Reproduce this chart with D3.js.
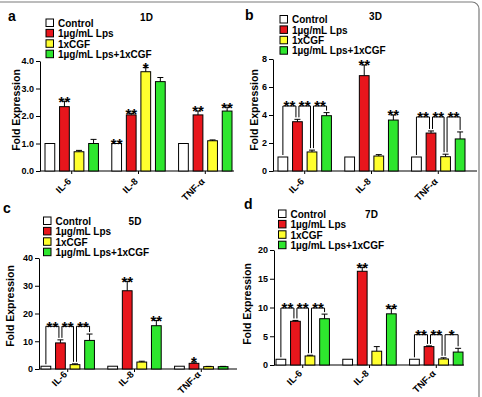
<!DOCTYPE html>
<html lang="en">
<head>
<meta charset="utf-8">
<script src="https://d3js.org/d3.v7.min.js"></script>
<style>
  body { margin: 0; background: #fff; }
  svg { display: block; font-family: "Liberation Sans", Arial, sans-serif; font-weight: bold; }
</style>
</head>
<body>
<div id="chart"></div>
<script>
// ---- data ----
const genes = ["IL-6", "IL-8", "TNF-α"];
const treatments = ["Control", "1µg/mL Lps", "1xCGF", "1µg/mL Lps+1xCGF"];
const days = ["1D", "3D", "5D", "7D"];
const letters = ["a", "b", "c", "d"];

const yTicks1D = [0, 1, 2, 3, 4];
const yTicks3D = [0, 2, 4, 6, 8];
const yTicks5D = [0, 10, 20, 30, 40];
const yTicks7D = [0, 5, 10, 15, 20];

// rows = genes, columns = treatments
const mean1D = [[1.00, 2.34, 0.70, 1.00], [1.00, 2.04, 3.61, 3.25], [1.00, 2.04, 1.10, 2.18]];
const err1D  = [[0, 0.20, 0.05, 0.15], [0, 0.06, 0.15, 0.15], [0, 0.14, 0.03, 0.14]];
const star1D = [["", "**", "", ""], ["**", "**", "*", ""], ["", "**", "", "**"]];

const mean3D = [[1.00, 3.52, 1.36, 3.95], [1.00, 6.81, 1.07, 3.64], [1.00, 2.71, 1.02, 2.29]];
const err3D  = [[0, 0.17, 0.13, 0.22], [0, 0.76, 0.10, 0.36], [0, 0.15, 0.18, 0.50]];
const star3D = [["", "", "", ""], ["", "**", "", "**"], ["", "", "", ""]];

const mean5D = [[1.00, 9.4, 1.56, 10.3], [1.00, 28.2, 2.5, 15.6], [1.00, 2.04, 0.85, 0.85]];
const err5D  = [[0, 1.1, 0.3, 2.3], [0, 3.4, 0.3, 1.9], [0, 0.45, 0.1, 0.1]];
const star5D = [["", "", "", ""], ["", "**", "", "**"], ["", "*", "", ""]];

const mean7D = [[1.00, 7.6, 1.57, 8.05], [1.00, 16.3, 2.4, 8.9], [1.00, 3.2, 1.05, 2.25]];
const err7D  = [[0, 0.15, 0.13, 0.8], [0, 0.7, 0.8, 0.95], [0, 0.12, 0.2, 0.65]];
const star7D = [["", "", "", ""], ["", "**", "", "**"], ["", "", "", ""]];

// comparison brackets: gene, level (fold expression), stars for pairs 0-1, 1-2, 2-3
const bracketPairs = [[0, 1], [1, 2], [2, 3]];
const brackets1D = [];
const brackets3D = [["IL-6", 4.64, ["**", "**", "**"]], ["TNF-α", 3.86, ["**", "**", "**"]]];
const brackets5D = [["IL-6", 15.4, ["**", "**", "**"]]];
const brackets7D = [["IL-6", 9.9, ["**", "**", "**"]], ["TNF-α", 5.27, ["**", "**", "*"]]];

const colors = ["#ffffff", "#e8161c", "#ffff2e", "#2ee62e"];

// ---- layout ----
const W = 482, H = 397;
const STAR = 15;
const panels = [
  {ticks: yTicks1D, mean: mean1D, err: err1D, star: star1D, brackets: brackets1D,
   axisX: 40, axisEnd: 234, band: [45, 232], yBottom: 171, yTop: 61, labDy: 11,
   letter: [8, 21], title: [146.5, 21], legend: [46, 19], yTitle: [19.5, 110]},
  {ticks: yTicks3D, mean: mean3D, err: err3D, star: star3D, brackets: brackets3D,
   axisX: 273, axisEnd: 477, band: [278, 465], yBottom: 171, yTop: 59, labDy: 11,
   letter: [245, 19.5], title: [375.5, 20], legend: [280, 15.5], yTitle: [257.5, 110]},
  {ticks: yTicks5D, mean: mean5D, err: err5D, star: star5D, brackets: brackets5D,
   axisX: 39, axisEnd: 237, band: [41, 228], yBottom: 369, yTop: 258, labDy: 6,
   letter: [3, 213], title: [135, 225], legend: [43.5, 217], yTitle: [14, 306]},
  {ticks: yTicks7D, mean: mean7D, err: err7D, star: star7D, brackets: brackets7D,
   axisX: 274, axisEnd: 464, band: [276, 463], yBottom: 365, yTop: 250, labDy: 9,
   letter: [244, 209], title: [371.5, 218], legend: [278.5, 210], yTitle: [251, 304]}
];

const svg = d3.select("#chart").append("svg").attr("width", W).attr("height", H);

// outer frame, only the top/right edges show
svg.append("rect")
  .attr("x", -10).attr("y", 2).attr("width", 489).attr("height", 420).attr("rx", 7)
  .attr("fill", "none").attr("stroke", "#7a7a7a").attr("stroke-width", 1.2);

function drawPanel(p, i) {
  const g = svg.append("g");
  const y = d3.scaleLinear().domain([0, p.ticks[p.ticks.length - 1]]).range([p.yBottom, p.yTop]);
  const x = d3.scaleBand().domain(genes).range(p.band).paddingInner(0.2).paddingOuter(0);
  const xs = d3.scaleBand().domain(treatments).range([0, x.bandwidth()]).paddingInner(0.33);
  const bw = xs.bandwidth();
  const cx = (gi, ti) => x(genes[gi]) + xs(treatments[ti]) + bw / 2;
  const topOf = (gi, ti) => y(p.mean[gi][ti] + p.err[gi][ti]);

  // y axis
  const yAx = g.append("g").attr("transform", `translate(${p.axisX},0)`)
    .call(d3.axisLeft(y).tickValues(p.ticks).tickSize(4).tickSizeOuter(0).tickPadding(2));
  yAx.selectAll("path,line").attr("stroke", "#000").attr("stroke-width", 1);
  yAx.selectAll("text").attr("font-family", "Liberation Sans, Arial, sans-serif")
    .attr("font-weight", "bold").attr("font-size", 9).attr("fill", "#000");

  // x axis
  g.append("line").attr("x1", p.axisX).attr("x2", p.axisEnd)
    .attr("y1", p.yBottom).attr("y2", p.yBottom).attr("stroke", "#000");
  const xAx = g.append("g").attr("transform", `translate(0,${p.yBottom})`)
    .call(d3.axisBottom(x).tickSize(3).tickFormat(""));
  xAx.select(".domain").remove();
  xAx.selectAll("line").attr("stroke", "#000");
  g.selectAll(".xlab").data(genes).join("text")
    .attr("transform", d => `translate(${x(d) + x.bandwidth() / 2},${p.yBottom + p.labDy}) rotate(-45)`)
    .attr("text-anchor", "end").attr("font-size", 9.5).text(d => d);

  // bars
  genes.forEach((gene, gi) => {
    treatments.forEach((t, ti) => {
      const v = p.mean[gi][ti];
      g.append("rect")
        .attr("x", x(gene) + xs(t)).attr("y", y(v))
        .attr("width", bw).attr("height", y(0) - y(v))
        .attr("fill", colors[ti]).attr("stroke", "#000").attr("stroke-width", 1);
      const e = p.err[gi][ti];
      if (e > 0) {
        const c = cx(gi, ti);
        g.append("line").attr("x1", c).attr("x2", c).attr("y1", y(v)).attr("y2", y(v + e)).attr("stroke", "#000");
        g.append("line").attr("x1", c - 3).attr("x2", c + 3).attr("y1", y(v + e)).attr("y2", y(v + e)).attr("stroke", "#000");
      }
      const s = p.star[gi][ti];
      if (s) {
        g.append("text").attr("x", cx(gi, ti)).attr("y", topOf(gi, ti) + 5.4)
          .attr("text-anchor", "middle").attr("font-size", STAR).text(s);
      }
    });
  });

  // brackets
  p.brackets.forEach(([gene, level, stars]) => {
    const gi = genes.indexOf(gene);
    const by = y(level);
    bracketPairs.forEach(([a, b], k) => {
      const xa = cx(gi, a) + (k > 0 ? 1.5 : 0);
      const xb = cx(gi, b) - (k < bracketPairs.length - 1 ? 1.5 : 0);
      g.append("path")
        .attr("d", `M${xa},${topOf(gi, a) - 2}V${by}H${xb}V${topOf(gi, b) - 2}`)
        .attr("fill", "none").attr("stroke", "#000").attr("stroke-width", 1);
      g.append("text").attr("x", (xa + xb) / 2).attr("y", by + 5.4)
        .attr("text-anchor", "middle").attr("font-size", STAR).text(stars[k]);
    });
  });

  // titles
  g.append("text").attr("x", p.letter[0]).attr("y", p.letter[1]).attr("font-size", 14).text(letters[i]);
  g.append("text").attr("x", p.title[0]).attr("y", p.title[1]).attr("text-anchor", "middle")
    .attr("font-size", 10).text(days[i]);
  g.append("text").attr("transform", `translate(${p.yTitle[0]},${p.yTitle[1]}) rotate(-90)`)
    .attr("text-anchor", "middle").attr("font-size", 10.5).text("Fold Expression");

  // legend
  treatments.forEach((t, ti) => {
    const ly = p.legend[1] + ti * 10.4;
    g.append("rect").attr("x", p.legend[0]).attr("y", ly).attr("width", 7.5).attr("height", 7.5)
      .attr("fill", colors[ti]).attr("stroke", "#000").attr("stroke-width", 1);
    g.append("text").attr("x", p.legend[0] + 12).attr("y", ly + 7.7)
      .attr("font-size", 10).text(t);
  });
}

panels.forEach(drawPanel);
</script>
</body>
</html>
